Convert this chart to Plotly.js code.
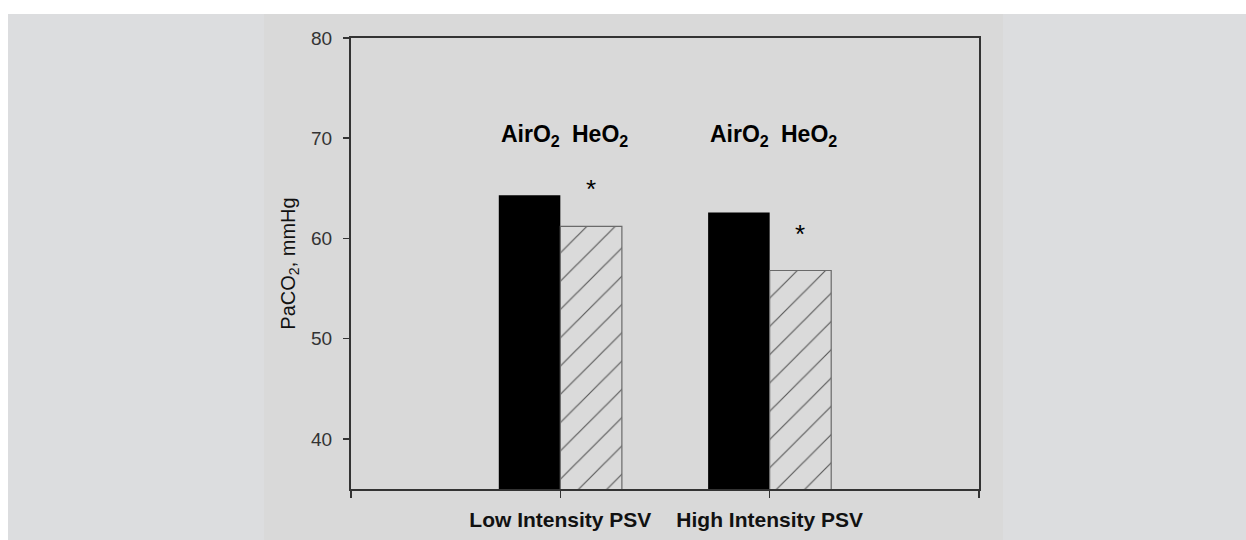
<!DOCTYPE html>
<html>
<head>
<meta charset="utf-8">
<script src="https://cdn.plot.ly/plotly-3.0.1.min.js"></script>
<style>
  html, body { margin: 0; padding: 0; background: #ffffff; width: 1246px; height: 540px; overflow: hidden; }
  #outer { position: absolute; left: 8px; top: 14px; width: 1238px; height: 526px; background: #dcdddf; }
  #panel { position: absolute; left: 264px; top: 14px; width: 739px; height: 526px; background: #d9d9d9; }
  #chart { position: absolute; left: 0; top: 0; width: 1246px; height: 540px; }
</style>
</head>
<body>
<div id="outer"></div>
<div id="panel"></div>
<div id="chart"></div>
<script>
// ---- data ----
var groupPositions = [1, 2];
var groupLabels = ["Low Intensity PSV", "High Intensity PSV"];
var airO2 = [64.3, 62.6];
var heO2 = [61.2, 56.8];
var seriesLabels = ["AirO<sub>2</sub>", "HeO<sub>2</sub>"];
var significant = ["*", "*"];
var yTicks = [40, 50, 60, 70, 80];
var xEdges = [0, 3];

var barW = 0.294;
var fontFam = '"Liberation Sans", Arial, sans-serif';

var traces = [
  {
    type: 'bar', x: groupPositions, y: airO2, width: barW, offset: -barW,
    marker: { color: '#000000', line: { width: 0 } },
    hoverinfo: 'none'
  },
  {
    type: 'bar', x: groupPositions, y: heO2, width: barW, offset: 0,
    marker: {
      color: '#dadada',
      line: { color: '#6a6a6a', width: 1.2 },
      pattern: { shape: '/', fgcolor: '#5a5a5a', bgcolor: '#dadada', size: 20, solidity: 0.06 }
    },
    hoverinfo: 'none'
  }
];

var annotations = [];
groupPositions.forEach(function (g, i) {
  annotations.push({
    x: g - barW / 2, y: 70.3, xref: 'x', yref: 'y', text: '<b>' + seriesLabels[0] + '</b>', showarrow: false,
    font: { family: fontFam, size: 23, color: '#000' }, yanchor: 'middle', xshift: 1
  });
  annotations.push({
    x: g + barW / 2, y: 70.3, xref: 'x', yref: 'y', text: '<b>' + seriesLabels[1] + '</b>', showarrow: false,
    font: { family: fontFam, size: 23, color: '#000' }, yanchor: 'middle', xshift: 9
  });
  annotations.push({
    x: g + barW / 2, y: heO2[i], xref: 'x', yref: 'y', text: significant[i], showarrow: false,
    font: { family: fontFam, size: 26, color: '#000' }, yanchor: 'bottom', yshift: 20
  });
});

var layout = {
  width: 1246, height: 540,
  margin: { l: 351, r: 267, t: 38, b: 51, pad: 0 },
  paper_bgcolor: 'rgba(0,0,0,0)',
  plot_bgcolor: 'rgba(0,0,0,0)',
  showlegend: false,
  xaxis: {
    range: [0, 3], tickmode: 'array', tickvals: groupPositions,
    ticktext: groupLabels.map(function (s) { return '<b>' + s + '</b>'; }),
    showline: true, linecolor: '#333', linewidth: 2, mirror: true,
    ticks: 'outside', ticklen: 7, tickwidth: 1.5, tickcolor: '#333',
    ticklabelstandoff: 4,
    minor: { tickmode: 'array', tickvals: xEdges, ticks: 'outside', ticklen: 7, tickwidth: 1.5, tickcolor: '#333', showgrid: false },
    showgrid: false, zeroline: false,
    tickfont: { family: fontFam, size: 21, color: '#111' }
  },
  yaxis: {
    range: [35, 80], tickmode: 'array', tickvals: yTicks,
    showline: true, linecolor: '#333', linewidth: 2, mirror: true,
    ticks: 'outside', ticklen: 6, tickwidth: 1.5, tickcolor: '#333',
    ticklabelstandoff: 7,
    showgrid: false, zeroline: false,
    tickfont: { family: fontFam, size: 19, color: '#333' },
    title: { text: 'PaCO<sub>2</sub>, mmHg', font: { family: fontFam, size: 20, color: '#111' }, standoff: 10 }
  },
  annotations: annotations
};

Plotly.newPlot('chart', traces, layout, { staticPlot: true, displayModeBar: false });
</script>
</body>
</html>
